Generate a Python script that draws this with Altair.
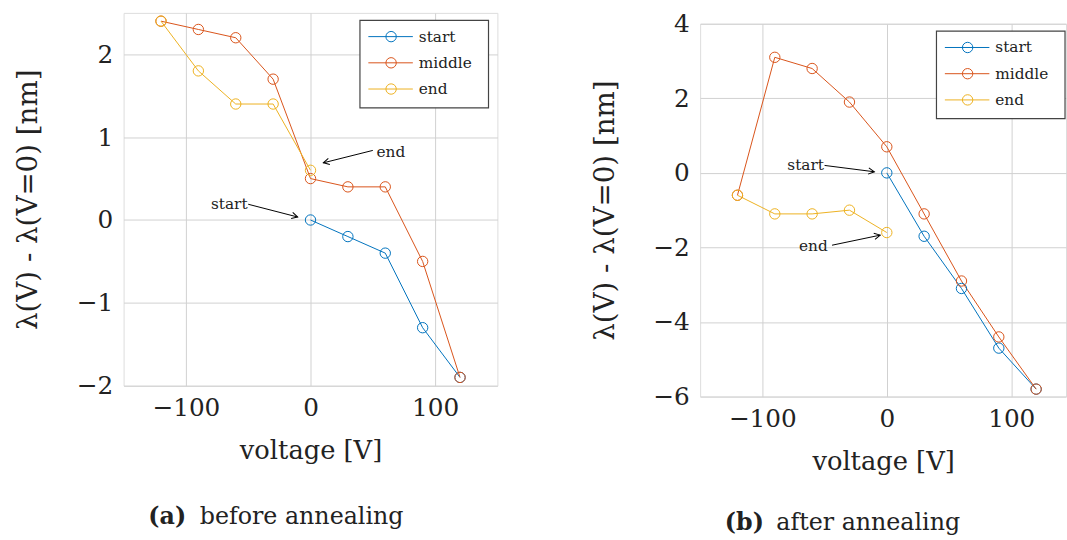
import math
import altair as alt
import pandas as pd

# ---------------- data ----------------
series_names = ["start", "middle", "end"]
series_colors = ["#0072BD", "#D95319", "#EDB120"]

volt_start = [0, 30, 60, 90, 120]
volt_middle = [-120, -90, -60, -30, 0, 30, 60, 90, 120]
volt_end = [-120, -90, -60, -30, 0]

a_start = [0.0, -0.2, -0.4, -1.3, -1.9]
a_middle = [2.4, 2.3, 2.2, 1.7, 0.5, 0.4, 0.4, -0.5, -1.9]
a_end = [2.4, 1.8, 1.4, 1.4, 0.6]

b_start = [0.0, -1.7, -3.1, -4.7, -5.8]
b_middle = [-0.6, 3.1, 2.8, 1.9, 0.7, -1.1, -2.9, -4.4, -5.8]
b_end = [-0.6, -1.1, -1.1, -1.0, -1.6]

x_ticks = [-100, 0, 100]
a_y_ticks = [-2, -1, 0, 1, 2]
b_y_ticks = [-6, -4, -2, 0, 2, 4]

# annotations: label, text x/y, tail x/y, head x/y (data units)
a_notes = [
    ("end", 53, 0.82, 50, 0.84, 10.3, 0.69, "left"),
    ("start", -50.5, 0.19, -50, 0.19, -10.3, 0.036, "right"),
]
b_notes = [
    ("start", -50.5, 0.2, -50, 0.2, -10, 0.03, "right"),
    ("end", -47.5, -1.97, -44, -1.94, -5.3, -1.67, "right"),
]

captions = [("(a)", "before annealing"), ("(b)", "after annealing")]

SERIF = "DejaVu Serif"
SMALL = "DejaVu Serif"
W_A, W_B, H = 378, 370, 377
ARROW = "M-1.5,-0.8 L0,0 L-1.5,0.8"


def panel(start, middle, end, xdom, ydom, yticks, notes, cap, width, cap_y):
    rows = []
    for name, xs, ys in zip(series_names, [volt_start, volt_middle, volt_end], [start, middle, end]):
        for v, d in zip(xs, ys):
            rows.append({"V": v, "d": d, "series": name})
    df = pd.DataFrame(rows)

    xs = alt.Scale(domain=xdom, nice=False, zero=False)
    ys = alt.Scale(domain=ydom, nice=False, zero=False)
    col = alt.Color("series:N", scale=alt.Scale(domain=series_names, range=series_colors), legend=None)

    x_enc = alt.X("V:Q", scale=xs, axis=alt.Axis(
        values=x_ticks, format="d", title="voltage [V]", grid=True, ticks=False, domain=False,
        labelPadding=10, titleY=66, titleBaseline="middle",
        labelFont=SERIF, labelFontSize=25, titleFont=SERIF, titleFontSize=26,
        titleFontWeight="normal", labelColor="#222", titleColor="#222",
        gridColor="#d0d0d0", gridWidth=1))
    y_enc = alt.Y("d:Q", scale=ys, axis=alt.Axis(
        values=yticks, format="d", title="λ(V) - λ(V=0) [nm]", grid=True, ticks=False, domain=False,
        labelPadding=11, titleX=-82, titleY=H / 2,
        labelFont=SERIF, labelFontSize=25, titleFont=SERIF, titleFontSize=28,
        titleFontWeight="normal", labelColor="#222", titleColor="#222",
        gridColor="#d0d0d0", gridWidth=1))

    base = alt.Chart(df)
    lines = base.mark_line(strokeWidth=1).encode(
        x=x_enc, y=y_enc, color=col, detail="series:N", order="V:Q")
    pts = base.mark_point(shape="circle", size=110, strokeWidth=1, filled=False, opacity=1).encode(
        x="V:Q", y="d:Q", color=col)

    # annotations
    kx = width / (xdom[1] - xdom[0])
    ky = H / (ydom[1] - ydom[0])
    nrows = []
    for lab, tx, ty, ax0, ay0, ax1, ay1, al in notes:
        ang = math.degrees(math.atan2(-(ay1 - ay0) * ky, (ax1 - ax0) * kx)) % 360
        nrows.append({"lab": lab, "tx": tx, "ty": ty, "x0": ax0, "y0": ay0,
                      "x1": ax1, "y1": ay1, "ang": ang, "al": al})
    ndf = pd.DataFrame(nrows)
    nb = alt.Chart(ndf)
    shafts = nb.mark_rule(color="black", strokeWidth=1).encode(
        x="x0:Q", y="y0:Q", x2="x1:Q", y2="y1:Q")
    heads = nb.mark_point(shape=ARROW, filled=False, size=64, color="black",
                          strokeWidth=1, opacity=1).encode(
        x="x1:Q", y="y1:Q", angle=alt.Angle("ang:Q", scale=None))
    txt_l = nb.transform_filter("datum.al == 'left'").mark_text(
        font=SMALL, fontSize=15.5, align="left", baseline="middle", color="#222").encode(
        x="tx:Q", y="ty:Q", text="lab:N")
    txt_r = nb.transform_filter("datum.al == 'right'").mark_text(
        font=SMALL, fontSize=15.5, align="right", baseline="middle", color="#222").encode(
        x="tx:Q", y="ty:Q", text="lab:N")

    # manual legend
    ldf = pd.DataFrame({"series": series_names, "idx": list(range(len(series_names)))})
    lb = alt.Chart(ldf).transform_calculate(ly="24 + 26.5 * datum.idx")
    box = alt.Chart(pd.DataFrame({"k": [0]})).mark_rect(
        fill="white", stroke="#444", strokeWidth=1.2).encode(
        x=alt.value(239), x2=alt.value(369), y=alt.value(7.5), y2=alt.value(96))
    lrule = lb.mark_rule(strokeWidth=1).encode(
        x=alt.value(247.5), x2=alt.value(292.5), y=alt.Y("ly:Q", scale=None), color=col)
    lpt = lb.mark_point(shape="circle", size=110, filled=False, strokeWidth=1, opacity=1).encode(
        x=alt.value(270.5), y=alt.Y("ly:Q", scale=None), color=col)
    ltxt = lb.mark_text(font=SMALL, fontSize=15.5, align="left", baseline="middle", color="#222").encode(
        x=alt.value(298.5), y=alt.Y("ly:Q", scale=None), text="series:N")

    # caption
    one = alt.Chart(pd.DataFrame({"k": [0]}))
    cap_b = one.mark_text(font=SERIF, fontSize=24, fontWeight="bold", align="left",
                          baseline="middle", color="#222").encode(
        x=alt.value(25), y=alt.value(cap_y), text=alt.value(cap[0]))
    cap_t = one.mark_text(font=SERIF, fontSize=24, align="left",
                          baseline="middle", color="#222").encode(
        x=alt.value(77), y=alt.value(cap_y), text=alt.value(cap[1]))

    return alt.layer(lines, pts, shafts, heads, txt_l, txt_r, box, lrule, lpt, ltxt,
                     cap_b, cap_t).properties(width=width, height=H)


pa = panel(a_start, a_middle, a_end, [-150, 150], [-2, 2.5], a_y_ticks, a_notes, captions[0], W_A, 510)
pb = panel(b_start, b_middle, b_end, [-150, 144], [-6, 4], b_y_ticks, b_notes, captions[1], W_B, 505)

spacer = alt.Chart(pd.DataFrame({"k": [0]})).mark_point(opacity=0).encode(
    x=alt.value(0), y=alt.value(0)
).properties(width=W_B, height=1, view=alt.ViewBackground(strokeOpacity=0))

right = alt.vconcat(spacer, pb, spacing=-5)

chart = alt.hconcat(pa, right, spacing=93).properties(
    padding={"left": 14, "top": 7, "right": 0, "bottom": 0}
).configure_view(stroke="#444", strokeWidth=1.2).configure(background="white")

chart.save("out.html", embed_options={"renderer": "svg", "actions": False})
